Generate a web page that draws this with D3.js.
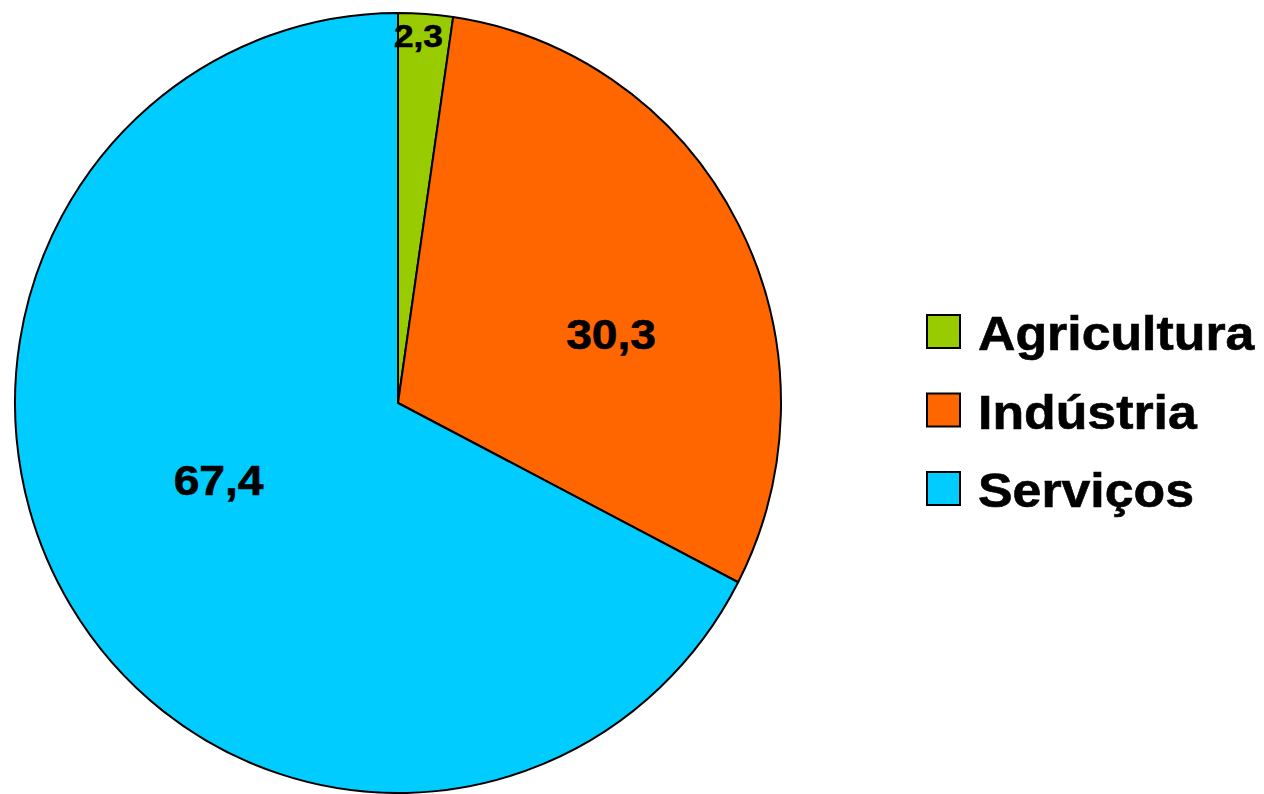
<!doctype html>
<html>
<head>
    <meta charset="utf-8">
    <style>
        body { margin: 0; background: #fff; }
        svg text {
            font-family: "Liberation Sans", Arial, sans-serif;
            font-weight: bold;
            fill: #000;
        }
    </style>
    <script src="https://d3js.org/d3.v7.min.js"></script>
</head>
<body>
<script>
    var categories = ["Agricultura", "Indústria", "Serviços"];
    var values = [2.3, 30.3, 67.4];
    var labels = ["2,3", "30,3", "67,4"];
    var colors = ["#99CC00", "#FF6600", "#00CCFF"];

    var width = 1264, height = 794;
    var cx = 398, cy = 403, rx = 383, ry = 390;

    var svg = d3.select("body").append("svg")
        .attr("width", width)
        .attr("height", height);

    var pie = d3.pie().sort(null).value(function (d) { return d; });
    var arcs = pie(values);

    var arc = d3.arc().innerRadius(0).outerRadius(rx);

    // pie is a touch taller than wide in the original
    var g = svg.append("g")
        .attr("transform", "translate(" + cx + "," + cy + ") scale(1," + (ry / rx) + ")");

    g.selectAll("path")
        .data(arcs)
        .enter()
        .append("path")
        .attr("d", arc)
        .attr("fill", function (d, i) { return colors[i]; })
        .attr("stroke", "#000")
        .attr("stroke-width", 2)
        .attr("stroke-linejoin", "round");

    // data labels
    var labelSize = [32, 42, 42];
    function labelPos(d, i) {
        var mid = (d.startAngle + d.endAngle) / 2;
        var r, a;
        if (i === 0) { r = 0.945 * ry; a = mid - 0.017; }
        else if (i === 1) { r = 0.585 * rx; a = mid + 0.16; }
        else { r = 0.51 * rx; a = mid + 0.14; }
        return [cx + r * Math.sin(a), cy - r * Math.cos(a)];
    }

    svg.selectAll("text.lbl")
        .data(arcs)
        .enter()
        .append("text")
        .attr("class", "lbl")
        .attr("transform", function (d, i) {
            var p = labelPos(d, i);
            return "translate(" + p[0] + "," + p[1] + ") scale(1.1,1)";
        })
        .attr("text-anchor", "middle")
        .attr("dy", "0.36em")
        .attr("stroke", "#000")
        .attr("stroke-width", 0.6)
        .style("font-size", function (d, i) { return labelSize[i] + "px"; })
        .text(function (d, i) { return labels[i]; });

    // legend
    var legend = svg.append("g").attr("transform", "translate(927,315)");
    var item = legend.selectAll("g")
        .data(categories)
        .enter()
        .append("g")
        .attr("transform", function (d, i) { return "translate(0," + i * 78.5 + ")"; });

    item.append("rect")
        .attr("width", 33)
        .attr("height", 33)
        .attr("fill", function (d, i) { return colors[i]; })
        .attr("stroke", "#000")
        .attr("stroke-width", 2);

    item.append("text")
        .attr("transform", "translate(51,35) scale(1.08,1)")
        .attr("stroke", "#000")
        .attr("stroke-width", 0.6)
        .style("font-size", "48px")
        .text(function (d) { return d; });
</script>
</body>
</html>
